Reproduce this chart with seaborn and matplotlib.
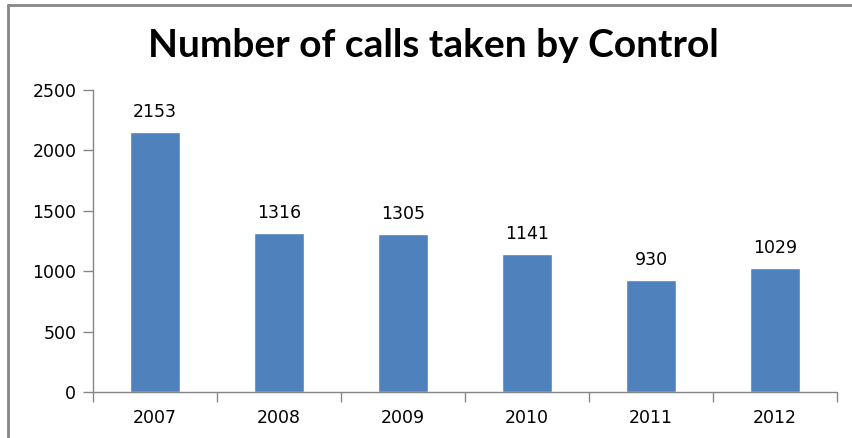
import matplotlib
matplotlib.use("Agg")
import matplotlib.pyplot as plt
import pandas as pd
import seaborn as sns
from matplotlib.lines import Line2D

years = ["2007", "2008", "2009", "2010", "2011", "2012"]
calls = [2153, 1316, 1305, 1141, 930, 1029]
y_ticks = [0, 500, 1000, 1500, 2000, 2500]

df = pd.DataFrame({"year": years, "calls": calls})

sns.set_style("white")
plt.rcParams["font.family"] = ["DejaVu Sans"]

fig = plt.figure(figsize=(8.52, 4.38), dpi=100)
ax = fig.add_axes([93 / 852, 1 - 392 / 438, (837 - 93) / 852, (392 - 90) / 438])

sns.barplot(data=df, x="year", y="calls", color="#4F81BD", saturation=1,
            width=0.4, ax=ax)

ax.set_ylim(0, 2500)
ax.set_xlim(-0.5, len(years) - 0.5)
ax.set_yticks(y_ticks)
ax.set_xlabel("")
ax.set_ylabel("")

# category boundary ticks like Excel
ax.set_xticks([i - 0.5 for i in range(len(years) + 1)], minor=True)
ax.tick_params(axis="x", which="major", bottom=True, length=0, pad=12,
               labelsize=12.5, labelcolor="#000000")
ax.tick_params(axis="x", which="minor", bottom=True, length=7, width=1,
               color="#868686", direction="out")
ax.tick_params(axis="y", left=True, length=7, width=1, color="#868686", direction="out",
               labelsize=12.5, pad=5, labelcolor="#000000")

sns.despine(ax=ax, top=True, right=True)
for side in ["left", "bottom"]:
    ax.spines[side].set_color("#868686")
    ax.spines[side].set_linewidth(1)

for i, v in enumerate(calls):
    ax.text(i, v + 90, str(v), ha="center", va="bottom", fontsize=12.5, color="#000000")

fig.text(0.509, 0.895, "Number of calls taken by Control", ha="center", va="center",
         fontsize=28, fontweight="bold", color="#000000", family=["Lato", "DejaVu Sans"])

# outer chart frame (left and top edges visible)
fig.add_artist(Line2D([8 / 852, 8 / 852], [0, 1 - 5 / 438], transform=fig.transFigure,
                      color="#868686", linewidth=2))
fig.add_artist(Line2D([8 / 852, 1], [1 - 5 / 438, 1 - 5 / 438], transform=fig.transFigure,
                      color="#868686", linewidth=2))

fig.savefig("out.png", dpi=100)
